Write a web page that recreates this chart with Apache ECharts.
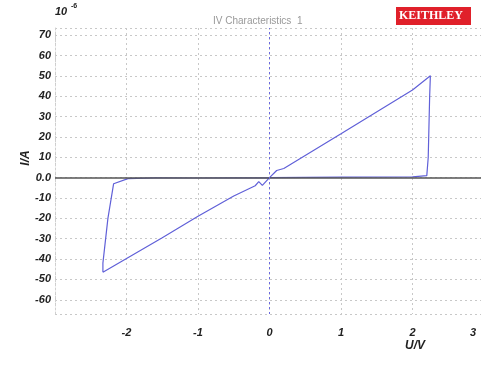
<!DOCTYPE html>
<html>
<head>
<meta charset="utf-8">
<script src="https://cdn.jsdelivr.net/npm/echarts@6/dist/echarts.min.js"></script>
<style>
  html, body { margin: 0; padding: 0; background: #fff; }
  #chart { width: 481px; height: 365px; }
</style>
</head>
<body>
<div id="chart"></div>
<script>
// IV sweep, voltage in V, current in 1e-6 A
const sweepU = [-2.33, -1.5, -1.0, -0.5, -0.2, -0.15, -0.1, 0.0, 0.1, 0.2, 1.0, 2.0, 2.25, 2.24, 2.22, 2.2, 2.0, 1.0, 0.0, -1.0, -1.6, -1.98, -2.18, -2.26, -2.33, -2.33]
const sweepI = [-46.5, -29.5, -19.0, -9.0, -4.0, -2.0, -3.8, 0.0, 3.5, 4.5, 21.5, 43.0, 50.0, 40.0, 10.0, 1.0, 0.4, 0.2, 0.0, -0.2, -0.1, -0.5, -3.0, -20.0, -42.0, -46.5]
const yTicks = [70, 60, 50, 40, 30, 20, 10, 0, -10, -20, -30, -40, -50, -60]
const yTickLabels = ['70', '60', '50', '40', '30', '20', '10', '0.0', '-10', '-20', '-30', '-40', '-50', '-60']
const xTicks = [-2, -1, 0, 1, 2, 3]
const xTickLabels = ['-2', '-1', '0', '1', '2', '3']

const chart = echarts.init(document.getElementById('chart'), null, { renderer: 'canvas' })

const tickFont = { color: '#222', fontSize: 11, fontWeight: 'bold', fontStyle: 'italic', fontFamily: 'Liberation Sans' }
const gridDots = { color: '#c8c8c8', type: [2, 3], width: 1 }

chart.setOption({
  animation: false,
  grid: { left: 55, width: 429, top: 28, bottom: 51, outerBoundsMode: 'none', containLabel: false },
  xAxis: {
    type: 'value',
    min: -3, max: 3, interval: 1,
    axisLine: { show: false },
    axisTick: { show: false },
    axisLabel: {
      ...tickFont,
      margin: 13,
      showMinLabel: false,
      showMaxLabel: true,
      formatter: (v) => {
        const i = xTicks.indexOf(v)
        if (i < 0) return ''
        return v === 3 ? '{edge|' + xTickLabels[i] + '}' : xTickLabels[i]
      },
      rich: { edge: { ...tickFont, padding: [0, 22, 6, 0] } },
    },
    splitLine: { show: true, lineStyle: gridDots },
  },
  yAxis: {
    type: 'value',
    min: -67, max: 73.5,
    minInterval: 10, maxInterval: 10, splitNumber: 14,
    axisLine: { show: true, onZero: false, lineStyle: { color: '#d0d0d0', type: [2, 2] } },
    axisTick: { show: false },
    axisLabel: {
      ...tickFont,
      margin: 4,
      showMinLabel: false, showMaxLabel: false,
      formatter: (v) => { const i = yTicks.indexOf(v); return i < 0 ? '' : yTickLabels[i] },
    },
    splitLine: { show: true, lineStyle: gridDots },
  },
  graphic: [
    { type: 'text', left: 55, top: 6, style: { text: '10', font: 'italic bold 11px Liberation Sans', fill: '#222' } },
    { type: 'text', left: 71, top: 3, style: { text: '-6', font: 'bold 7px Liberation Sans', fill: '#222' } },
    { type: 'text', left: 213, top: 16, style: { text: 'IV Characteristics  1', font: '10px Liberation Sans', fill: '#999' } },
    { type: 'rect', left: 396, top: 7, shape: { width: 75, height: 18 }, style: { fill: '#e0202a' } },
    { type: 'text', left: 399, top: 10, style: { text: 'KEITHLEY', font: 'bold 12px Liberation Serif', fill: '#fff' } },
    { type: 'text', x: 26, y: 158, rotation: Math.PI / 2, style: { text: 'I/A', font: 'italic bold 12px Liberation Sans', fill: '#222', align: 'center', verticalAlign: 'middle' } },
    { type: 'text', left: 405, top: 340, style: { text: 'U/V', font: 'italic bold 12px Liberation Sans', fill: '#222' } },
  ],
  series: [
    {
      type: 'line',
      data: sweepU.map((u, i) => [u, sweepI[i]]),
      symbol: 'none',
      lineStyle: { color: '#6060d8', width: 1.2 },
      markLine: {
        silent: true,
        symbol: 'none',
        label: { show: false },
        data: [
          { yAxis: 0, lineStyle: { color: '#555', width: 1.6, type: 'solid' } },
          { xAxis: 0, lineStyle: { color: '#6a6ae0', width: 1, type: [2, 3] } },
        ],
      },
    },
  ],
})
</script>
</body>
</html>
